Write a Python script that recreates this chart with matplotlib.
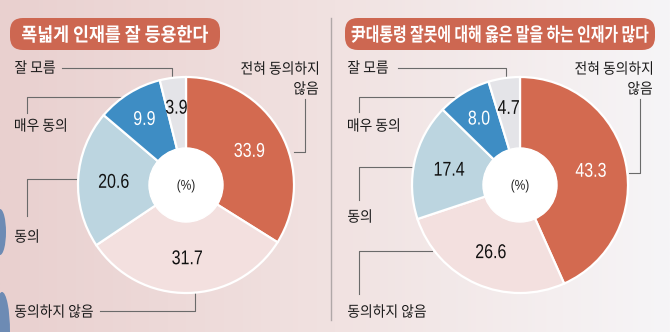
import numpy as np
import matplotlib
matplotlib.use('Agg')
import matplotlib.pyplot as plt
from matplotlib.patches import FancyBboxPatch, Circle, Ellipse, PathPatch
from matplotlib.textpath import TextPath
from matplotlib.font_manager import FontProperties
from matplotlib.transforms import Affine2D

# survey answers, clockwise from 12 o'clock
categories = ['전혀 동의하지 않음', '동의하지 않음', '동의', '매우 동의', '잘 모름']
left_values = [33.9, 31.7, 20.6, 9.9, 3.9]
right_values = [43.3, 26.6, 17.4, 8.0, 4.7]
left_title = '폭넓게 인재를 잘 등용한다'
right_title = '尹대통령 잘못에 대해 옳은 말을 하는 인재가 많다'

colors = ['#d36a50', '#f3e0df', '#bcd5e0', '#3e8dc4', '#e4e4e8']
value_colors = ['white', '#111111', '#111111', 'white', '#111111']

KR = 'Noto Sans CJK KR'
NUM = 'Liberation Sans'

W, H = 670, 332
fig = plt.figure(figsize=(W / 100, H / 100), dpi=100)
ax = fig.add_axes([0, 0, 1, 1])


def squeezed(x, y, s, size, family, sx=1.0, width=None, weight='normal',
             color='#1a1a1a', ha='center', zorder=4):
    # text drawn as a path so it can be narrowed like the condensed type
    # in the original; y runs downwards (pixel coords)
    tp = TextPath((0, 0), s, size=size, prop=FontProperties(family=family, weight=weight))
    bb = tp.get_extents()
    if width is not None:
        sx = width / bb.width
    if ha == 'center':
        dx = -(bb.x0 + bb.x1) / 2 * sx
    elif ha == 'left':
        dx = -bb.x0 * sx
    else:
        dx = -bb.x1 * sx
    tr = Affine2D().scale(sx, -1).translate(x + dx, y + (bb.y0 + bb.y1) / 2)
    ax.add_patch(PathPatch(tr.transform_path(tp), fc=color, ec='none', lw=0, zorder=zorder))


# background: pink on the left fading to pale grey on the right
xs = np.linspace(0, 1, 256)
c0 = np.array([233, 208, 207]) / 255
c1 = np.array([241, 226, 225]) / 255
c2 = np.array([246, 245, 247]) / 255
grad = np.where(xs[:, None] < 0.5,
                c0 + (c1 - c0) * (xs[:, None] / 0.5),
                c1 + (c2 - c1) * ((xs[:, None] - 0.5) / 0.5))
ax.imshow(grad[None, :, :], extent=(0, W, H, 0), aspect='auto', zorder=0)

# bits of a photo peeking in at the left edge
ax.add_patch(Ellipse((0, 232), 12, 46, color='#6d8bb4', zorder=1, lw=0))
ax.add_patch(Ellipse((2, 332), 16, 80, color='#6d8bb4', zorder=1, lw=0))

# divider between the two panels
ax.plot([331, 331], [18, 320], color='#b0a8a8', lw=1, zorder=1)

R, R_HOLE = 108, 36


def donut(cx, cy, values):
    wedges, _ = ax.pie(values, colors=colors, startangle=-90, counterclock=True,
                       center=(cx, cy), radius=R, frame=True,
                       wedgeprops=dict(width=R - R_HOLE, edgecolor='white', linewidth=1.6))
    for w in wedges:
        w.set_zorder(2)
    ax.add_patch(Circle((cx, cy), R_HOLE + 1, color='white', zorder=3))
    squeezed(cx, cy + 1, '(%)', 14, NUM, sx=0.85, color='#222222')
    for w, v, tc in zip(wedges, values, value_colors):
        mid = np.deg2rad((w.theta1 + w.theta2) / 2)
        d = R * (0.73 if v < 12 else 0.67)
        squeezed(cx + d * np.cos(mid), cy + d * np.sin(mid), f'{v:.1f}',
                 20, NUM, sx=0.8, color=tc)


def title_box(x0, x1, text, width):
    ax.add_patch(FancyBboxPatch((x0, 18), x1 - x0, 32,
                                boxstyle='round,pad=0,rounding_size=13',
                                fc='#cd6751', ec='none', zorder=2))
    squeezed((x0 + x1) / 2, 34, text, 19, KR, width=width, weight='bold',
             color='white', zorder=3)


line_kw = dict(color='#6a6a6a', lw=0.8, zorder=1)


def label(x, y, s, ha='left'):
    squeezed(x, y, s, 15, KR, sx=0.92, ha=ha)


# ---- left panel
title_box(10, 220, left_title, 186)
donut(186, 185, left_values)
label(318, 68, '전혀 동의하지', ha='right')
label(318, 88, '않음', ha='right')
ax.plot([305, 305, 294], [99, 152, 152], **line_kw)
label(15, 67, categories[4])
ax.plot([62, 172, 172], [68, 68, 79], **line_kw)
label(15, 125, categories[3])
ax.plot([27, 27, 122], [113, 97, 97], **line_kw)
label(15, 236, categories[2])
ax.plot([27, 27, 79], [216, 179, 179], **line_kw)
label(15, 311, categories[1])
ax.plot([100, 195, 195], [311, 311, 293], **line_kw)

# ---- right panel
title_box(345, 655, right_title, 297)
donut(520, 185, right_values)
label(652, 68, '전혀 동의하지', ha='right')
label(652, 88, '않음', ha='right')
ax.plot([640, 640, 629], [99, 173, 173], **line_kw)
label(348, 67, categories[4])
ax.plot([398, 506, 506], [68, 68, 79], **line_kw)
label(348, 125, categories[3])
ax.plot([359, 359, 458], [112, 97, 97], **line_kw)
label(348, 216, categories[2])
ax.plot([359, 359, 413], [200, 167, 167], **line_kw)
label(348, 311, categories[1])
ax.plot([359, 359, 432], [294, 251, 251], **line_kw)

ax.set_xlim(0, W)
ax.set_ylim(H, 0)
ax.set_aspect('auto')
ax.set_axis_off()

fig.savefig('out.png', dpi=100)
